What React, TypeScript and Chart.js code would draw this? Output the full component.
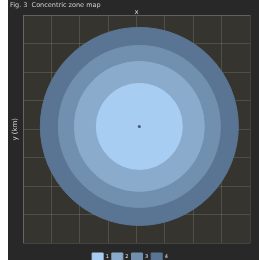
import React, { useEffect, useRef } from "react";
import { Chart, registerables } from "chart.js";

Chart.register(...registerables);

const titleText = "Fig. 3  Concentric zone map";
const xAxisTitle = "x";
const yAxisTitle = "y (km)";
const ringLabels = ["1", "2", "3", "4"];
const ringX = [0.1, 0.1, 0.1, 0.1];
const ringY = [0.1, 0.1, 0.1, 0.1];
const ringRadiusPx = [43, 65, 81, 99];
const ringColors = ["#a8cdf3", "#8babcc", "#7190b0", "#5a7593"];
const axisMin = -4;
const axisMax = 4;

const areaBg = {
  id: "areaBg",
  beforeDraw(chart: any) {
    const { ctx, chartArea, width, height } = chart;
    ctx.save();
    ctx.fillStyle = "#282828";
    ctx.fillRect(0, 0, width, height);
    ctx.fillStyle = "#36342f";
    ctx.fillRect(chartArea.left, chartArea.top, chartArea.right - chartArea.left, chartArea.bottom - chartArea.top);
    ctx.restore();
  },
};

export default function App() {
  const ref = useRef<HTMLCanvasElement | null>(null);
  useEffect(() => {
    if (!ref.current) return;
    const datasets: any[] = ringRadiusPx.map((r, i) => ({
      label: ringLabels[i],
      data: [{ x: ringX[i], y: ringY[i], r }],
      backgroundColor: ringColors[i],
      borderColor: ringColors[i],
      borderWidth: 1,
      clip: false,
    }));
    datasets.unshift({
      label: "",
      data: [{ x: ringX[0], y: ringY[0], r: 1.5 }],
      backgroundColor: "#4a5a70",
      borderColor: "#4a5a70",
      borderWidth: 0,
    });
    const chart = new Chart(ref.current, {
      type: "bubble",
      data: { datasets },
      plugins: [areaBg],
      options: {
        animation: false,
        responsive: false,
        layout: { autoPadding: false, padding: { left: 2, right: 9, top: 0, bottom: 0 } },
        plugins: {
          title: {
            display: true,
            text: titleText,
            align: "start",
            color: "#cfcfcf",
            font: { size: 6.5, weight: "normal", family: "DejaVu Sans", lineHeight: 1 },
            padding: { top: 2, bottom: 0 },
          },
          legend: {
            display: true,
            position: "bottom",
            title: { display: true, text: "", font: { size: 3, lineHeight: 1 }, padding: { top: 2, bottom: 2 } },
            labels: {
              color: "#dfe8f4",
              font: { size: 5, family: "DejaVu Sans" },
              boxWidth: 11,
              boxHeight: 8,
              padding: 3,
              filter: (item: any) => item.text !== "",
            },
          },
          tooltip: { enabled: false },
        },
        scales: {
          x: {
            type: "linear",
            position: "top",
            min: axisMin,
            max: axisMax,
            ticks: { display: false, stepSize: 1 },
            grid: { color: "rgba(255,255,255,0.13)", drawTicks: false },
            border: { color: "rgba(255,255,255,0.13)" },
            title: {
              display: true,
              text: xAxisTitle,
              color: "#d8d8d8",
              font: { size: 7, family: "DejaVu Sans", lineHeight: 1 },
              padding: { top: 0, bottom: 0 },
            },
          },
          y: {
            type: "linear",
            min: axisMin,
            max: axisMax,
            ticks: { display: false, stepSize: 1 },
            grid: { color: "rgba(255,255,255,0.13)", drawTicks: false },
            border: { color: "rgba(255,255,255,0.13)" },
            title: {
              display: true,
              text: yAxisTitle,
              color: "#d8d8d8",
              font: { size: 7, family: "DejaVu Sans", lineHeight: 1 },
              padding: { top: 2, bottom: 4 },
            },
          },
        },
      },
    });
    return () => chart.destroy();
  }, []);
  return (
    <div style={{ position: "absolute", left: 8, top: 0, width: 251, height: 260, overflow: "hidden", background: "#282828" }}>
      <canvas ref={ref} width={251} height={271} style={{ display: "block" }} />
    </div>
  );
}
